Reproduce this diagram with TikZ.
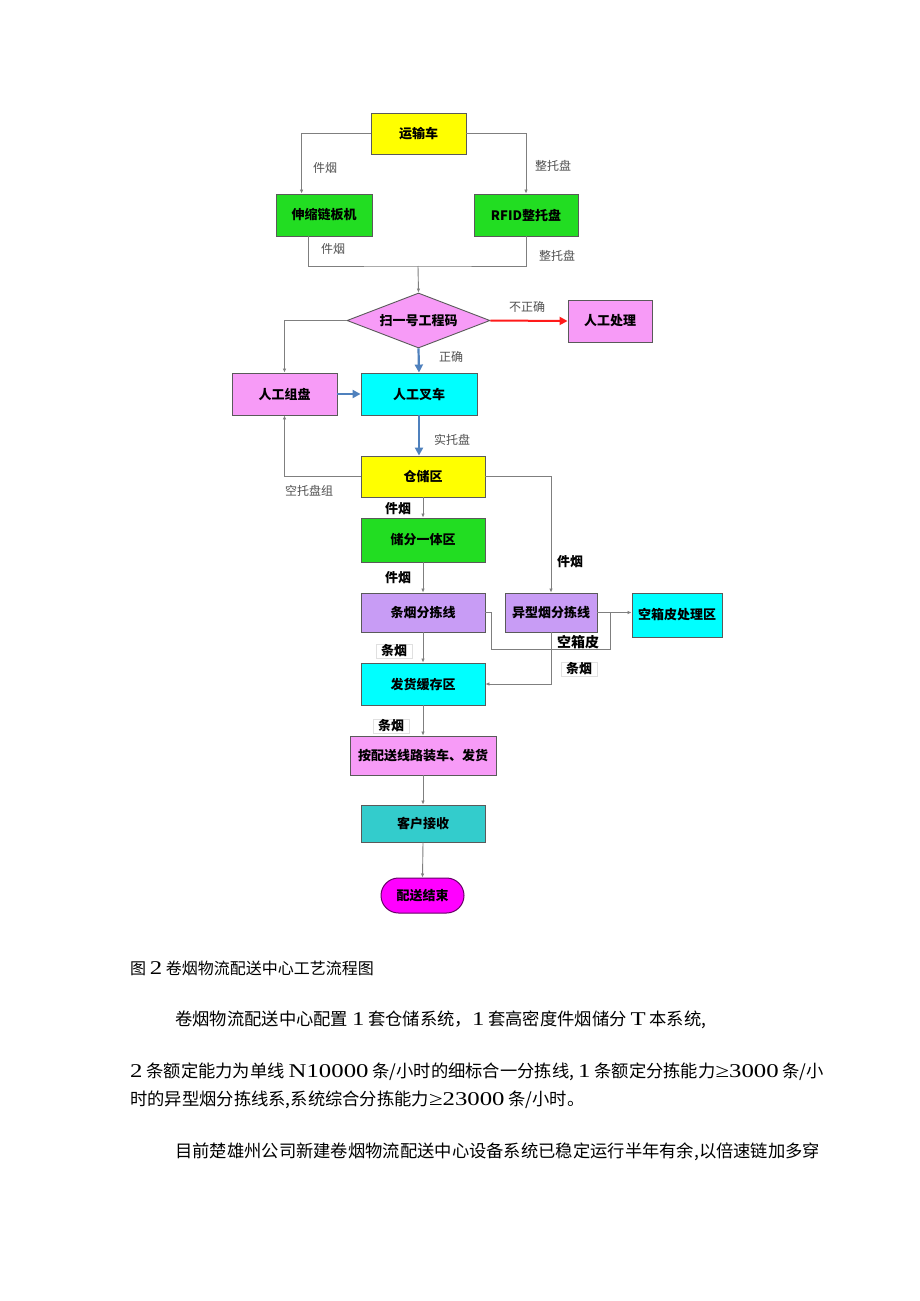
\documentclass[tikz,border=0pt]{standalone}
\usepackage{fontspec}
\setmainfont{Noto Sans CJK SC}
\newfontfamily\numf[FakeStretch=1.27]{Liberation Serif}
\newcommand\nm[1]{{\numf\fontsize{19.5}{17.3}\selectfont #1}}
\usetikzlibrary{shapes.geometric,shapes.misc,arrows.meta,calc}
\definecolor{cYellow}{HTML}{FFFF00}
\definecolor{cGreen}{HTML}{22DD22}
\definecolor{cPink}{HTML}{F79BF7}
\definecolor{cCyan}{HTML}{00FFFF}
\definecolor{cPurple}{HTML}{C89CF5}
\definecolor{cTeal}{HTML}{33CCCC}
\definecolor{cMag}{HTML}{FF00FF}
\definecolor{cBorder}{HTML}{5A5A5A}
\definecolor{cLine}{HTML}{7F7F7F}
\definecolor{cBlue}{HTML}{4F81BD}
\definecolor{cRed}{HTML}{FF1A1A}
\definecolor{cLbl}{HTML}{505050}
\begin{document}
\begin{tikzpicture}[x=1pt,y=-1pt,
 box/.style={draw=cBorder, line width=0.9pt, inner sep=0pt, font=\bfseries\fontsize{13}{13}\selectfont},
 conn/.style={draw=cLine, line width=0.9pt, -{Latex[length=4pt,width=3.5pt]}},
 plain/.style={draw=cLine, line width=0.9pt},
 bluearr/.style={draw=cBlue, line width=2.2pt, -{Triangle[length=8pt,width=8pt]}},
 redarr/.style={draw=cRed, line width=2pt, -{Triangle[length=8pt,width=8pt]}},
 lbl/.style={text=cLbl, font=\fontsize{12}{12}\selectfont, inner sep=0pt},
 blbl/.style={text=black, font=\bfseries\fontsize{13}{13}\selectfont, inner sep=0pt},
 tag/.style={blbl, draw=black!12, inner xsep=5pt, inner ysep=1pt},
 body/.style={anchor=west, inner sep=0pt, font=\fontsize{17.3}{17.3}\selectfont}
]
\fill[white] (0,0) rectangle (920,1301);
\useasboundingbox (0,0) rectangle (920,1301);

% nodes
\node[box, fill=cYellow, minimum width=95pt, minimum height=41pt] (ysc) at (418.5,133.5) {运输车};
\node[box, fill=cGreen, minimum width=96pt, minimum height=42pt] (ssl) at (324,215) {伸缩链板机};
\node[box, fill=cGreen, minimum width=104pt, minimum height=42pt] (rfid) at (526,215) {RFID整托盘};
\node[diamond, aspect=2.6, draw=cBorder, line width=0.9pt, fill=cPink, minimum width=143pt, minimum height=55pt, inner sep=0pt, font=\bfseries\fontsize{13}{13}\selectfont] (dia) at (418.5,320.5) {扫一号工程码};
\node[box, fill=cPink, minimum width=84pt, minimum height=42pt] (rgcl) at (610,321) {人工处理};
\node[box, fill=cPink, minimum width=105pt, minimum height=42pt] (rgzp) at (284.5,394) {人工组盘};
\node[box, fill=cCyan, minimum width=116pt, minimum height=42pt] (rgcc) at (419,394) {人工叉车};
\node[box, fill=cYellow, minimum width=124pt, minimum height=41pt] (ccq) at (423,476.5) {仓储区};
\node[box, fill=cGreen, minimum width=124pt, minimum height=44pt] (cf) at (423,540) {储分一体区};
\node[box, fill=cPurple, minimum width=124pt, minimum height=39pt] (tyf) at (423,612.5) {条烟分拣线};
\node[box, fill=cPurple, minimum width=92pt, minimum height=39pt] (yx) at (551,612.5) {异型烟分拣线};
\node[box, fill=cCyan, minimum width=90pt, minimum height=44pt] (kx) at (677,615) {空箱皮处理区};
\node[box, fill=cCyan, minimum width=124pt, minimum height=42pt] (fh) at (423,684) {发货缓存区};
\node[box, fill=cPink, minimum width=146pt, minimum height=39pt] (az) at (423,755.5) {按配送线路装车、发货};
\node[box, fill=cTeal, minimum width=124pt, minimum height=37pt] (kh) at (423,823.5) {客户接收};
\node[rounded rectangle, draw=black!60!cMag, fill=cMag, line width=1pt, minimum width=83pt, minimum height=35pt, inner sep=0pt, font=\bfseries\fontsize{13}{13}\selectfont] (end) at (422.5,895.5) {配送结束};

% connectors
\draw[conn] (ysc.west) -| ([xshift=26pt]ssl.north west);
\draw[conn] (ysc.east) -| (rfid.north);
\coordinate (m) at (418,266);
\draw[plain] ([xshift=33pt]ssl.south west) |- (m) -| (rfid.south);
\draw[conn] (m) -- (dia.north);
\draw[redarr] (dia.east) -- (rgcl.west);
\draw[conn] (dia.west) -| (rgzp.north);
\draw[bluearr] (dia.south) -- (rgcc.north);
\draw[bluearr] (rgzp.east) -- (rgcc.west);
\draw[bluearr] (rgcc.south) -- (rgcc.south |- ccq.north);
\draw[conn] (ccq.west) -| (rgzp.south);
\draw[conn] (ccq.east) -| (yx.north);
\draw[conn] (ccq.south) -- (cf.north);
\draw[conn] (cf.south) -- (tyf.north);
\draw[conn] (yx.east) -- (yx.east -| kx.west);
\coordinate (j) at ($(yx.east)+(13,0)$);
\draw[plain] (tyf.east) -- ++(6,0) |- ($(j)+(0,37)$) -- (j);
\draw[conn] (tyf.south) -- (fh.north);
\draw[conn] (yx.south) |- (fh.east);
\draw[conn] (fh.south) -- (az.north);
\draw[conn] (az.south) -- (kh.north);
\draw[conn] (kh.south) -- (end.north);

% labels
\node[lbl] (l1) at (325,168) {件烟};
\node[lbl] (l2) at (553,166) {整托盘};
\node[lbl] (l3) at (333,249) {件烟};
\node[lbl] (l4) at (557,256) {整托盘};
\node[lbl] (l5) at (527,307) {不正确};
\node[lbl] (l6) at (451,357) {正确};
\node[lbl] (l7) at (452,440) {实托盘};
\node[lbl] (l8) at (309,491) {空托盘组};
\node[blbl] (l9) at (398,509) {件烟};
\node[blbl] (l10) at (398,578) {件烟};
\node[blbl] (l11) at (570,562) {件烟};
\node[blbl, font=\bfseries\fontsize{14}{14}\selectfont] (l12) at (578,642) {空箱皮};
\node[tag] (l13) at (394,651) {条烟};
\node[tag] (l14) at (579,669) {条烟};
\node[tag] (l15) at (391,726) {条烟};

% text below
\node[body, font=\fontsize{16}{16}\selectfont] (cap) at (130,968) {图 \nm{2} 卷烟物流配送中心工艺流程图};
\node[body] (p1) at (175,1020) {卷烟物流配送中心配置 \nm{1} 套仓储系统，\nm{1} 套高密度件烟储分 \nm{T} 本系统,};
\node[body] (p2) at (130,1072) {\nm{2} 条额定能力为单线 \nm{N10000} 条/小时的细标合一分拣线, \nm{1} 条额定分拣能力\nm{≥3000} 条/小};
\node[body] (p3) at (130,1100) {时的异型烟分拣线系,系统综合分拣能力\nm{≥23000} 条/小时。};
\node[body] (p4) at (175,1152) {目前楚雄州公司新建卷烟物流配送中心设备系统已稳定运行半年有余,以倍速链加多穿};
\end{tikzpicture}
\end{document}
